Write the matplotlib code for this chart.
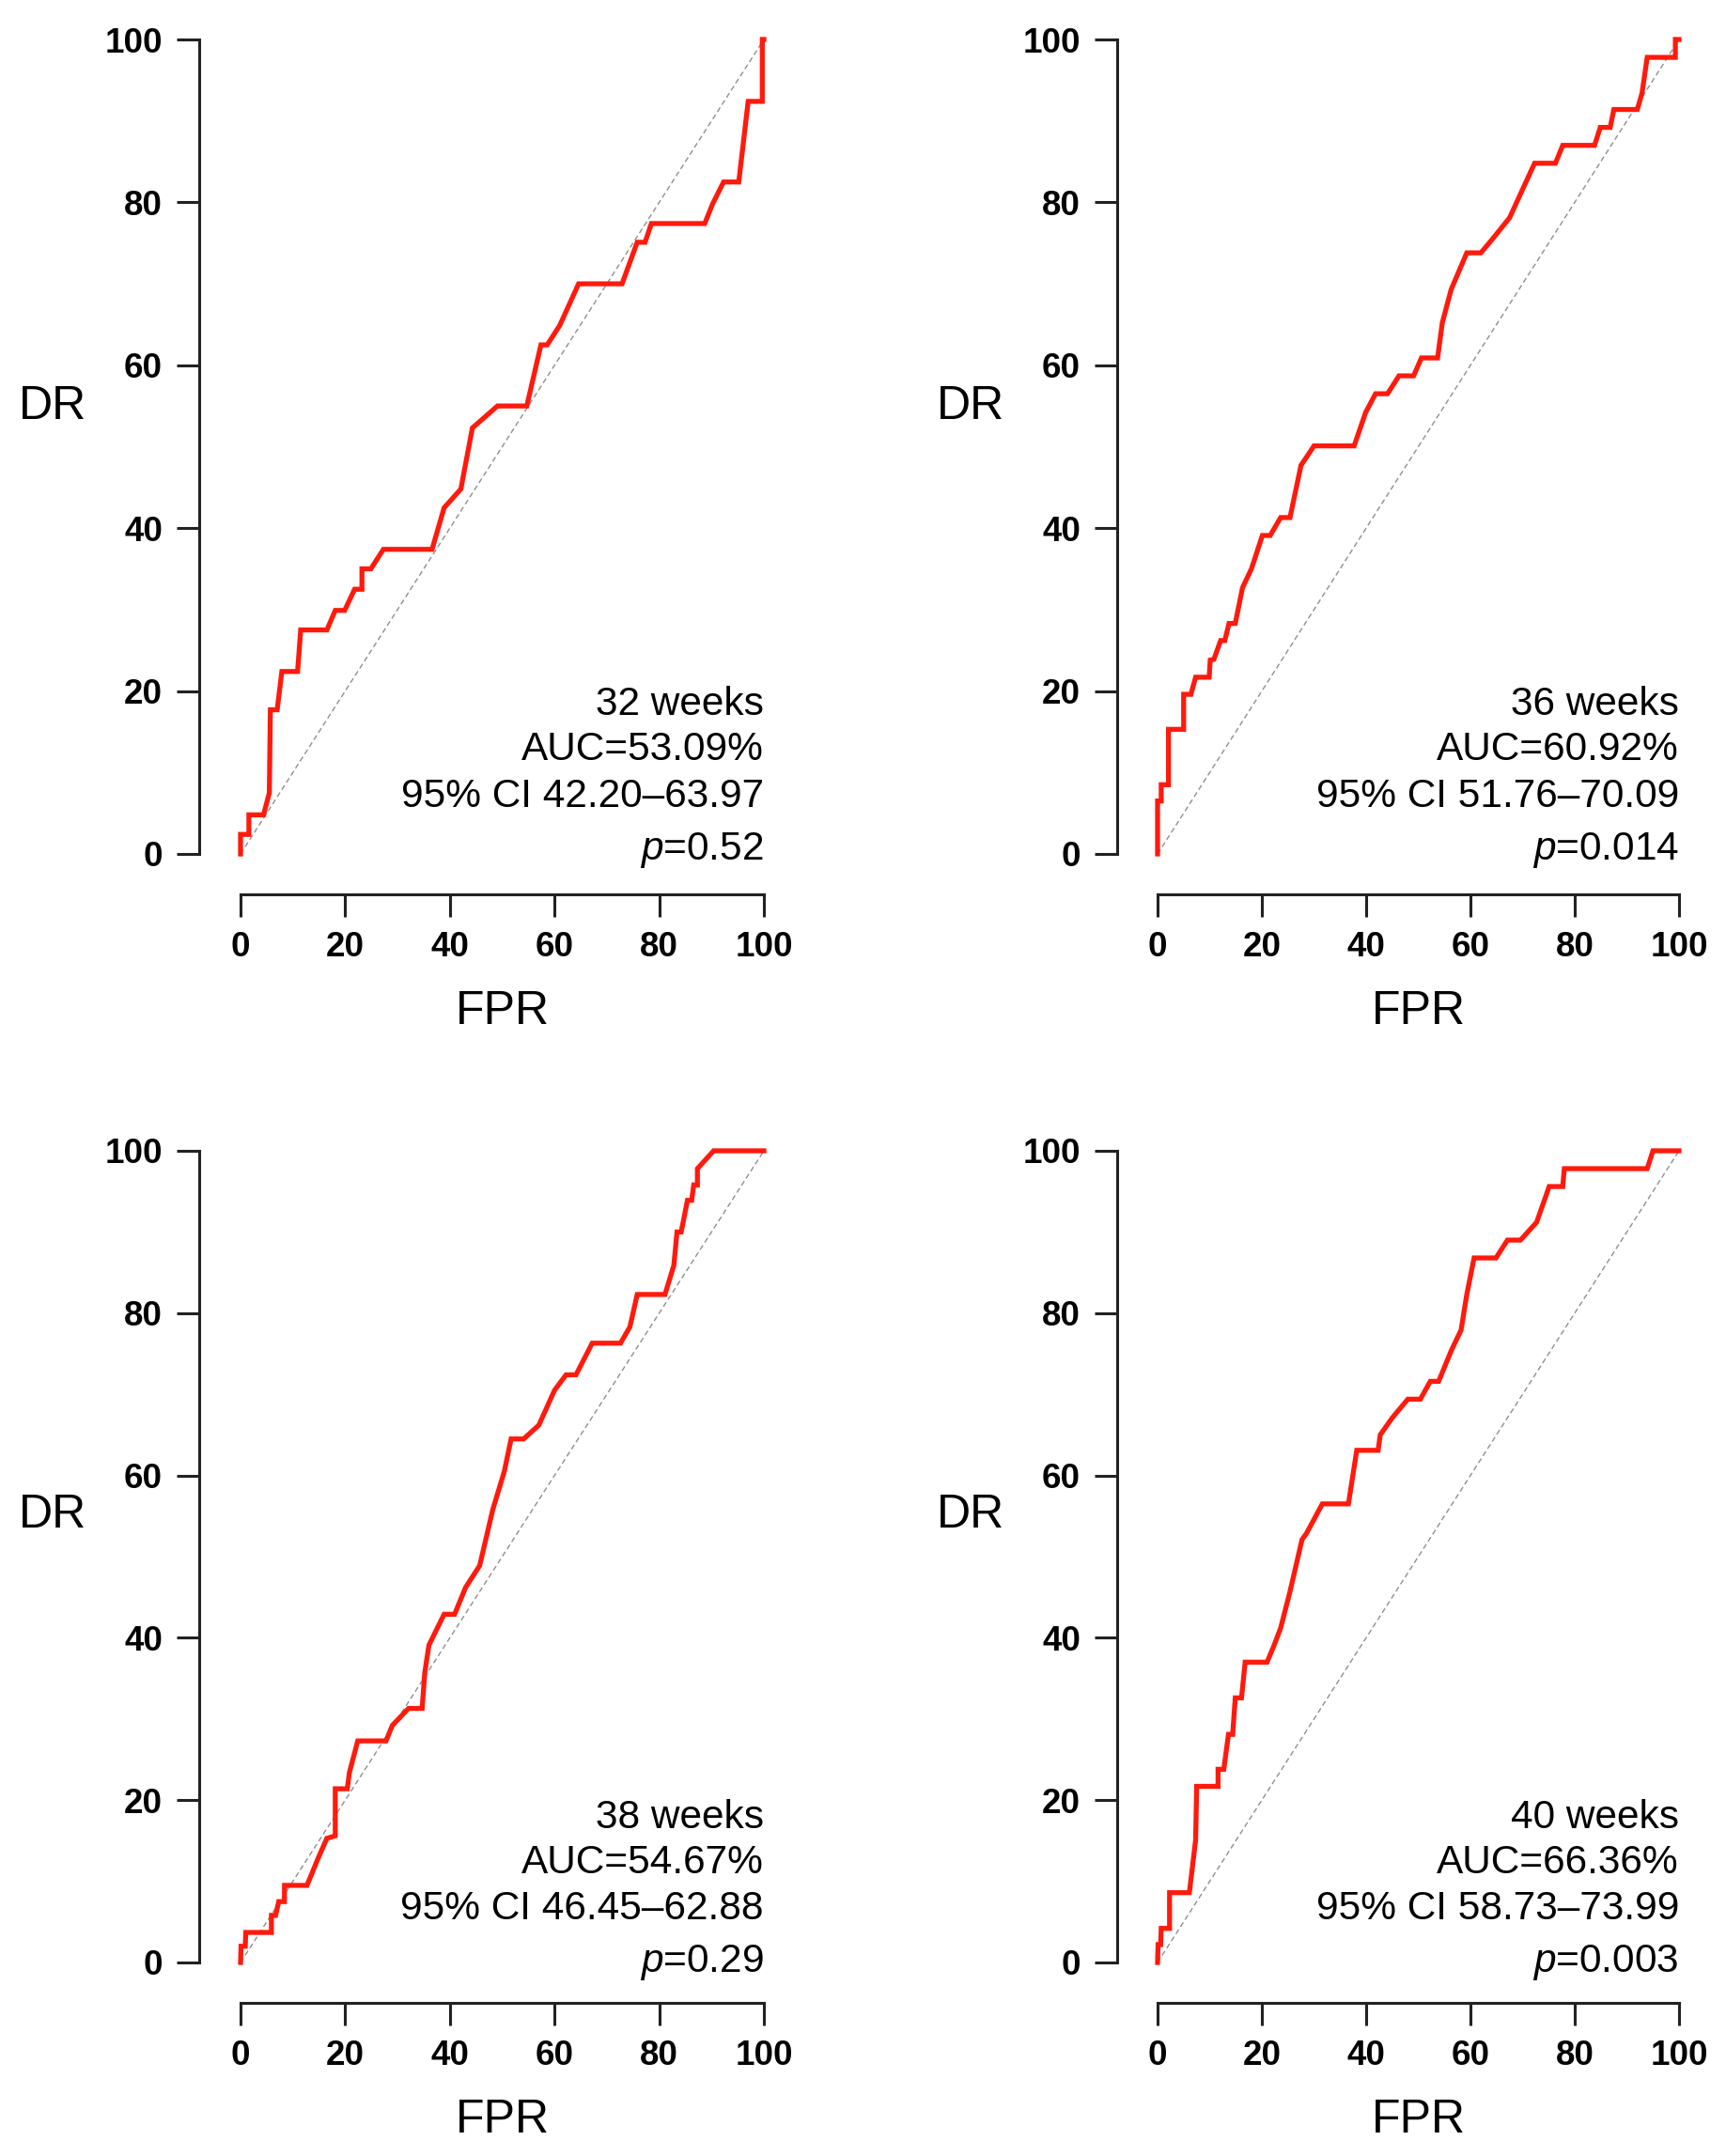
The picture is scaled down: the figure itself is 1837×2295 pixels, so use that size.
import matplotlib
matplotlib.use("Agg")
import matplotlib.pyplot as plt

plt.rcParams['font.family'] = ['Liberation Sans', 'DejaVu Sans']
plt.rcParams['mathtext.fontset'] = 'custom'
plt.rcParams['mathtext.rm'] = 'Liberation Sans'
plt.rcParams['mathtext.it'] = 'Liberation Sans:italic'

# ---------------- data ----------------
fpr32 = [0, 0, 1.6, 1.6, 4.4, 5.5, 5.7, 7.0, 7.9, 10.9, 11.5, 16.5, 18.1, 19.9, 21.8, 23.2, 23.2,
         24.9, 27.3, 36.6, 38.9, 42.1, 44.3, 49.1, 54.7, 57.4, 58.6, 61.0, 64.6, 72.9, 75.8, 77.3,
         78.5, 88.7, 90.2, 92.3, 95.2, 97.0, 99.7, 99.7, 100]
dr32 = [0, 2.4, 2.4, 4.8, 4.8, 7.5, 17.7, 17.7, 22.4, 22.4, 27.5, 27.5, 29.9, 29.9, 32.5, 32.5, 35.0,
        35.0, 37.4, 37.4, 42.5, 44.8, 52.3, 55.0, 55.0, 62.5, 62.5, 64.9, 70.0, 70.0, 75.1, 75.1,
        77.4, 77.4, 79.8, 82.5, 82.5, 92.4, 92.4, 100, 100]

fpr36 = [0, 0, 0.7, 0.7, 2.1, 2.1, 5.0, 5.0, 6.4, 7.3, 9.9, 10.1, 10.8, 12.1, 12.9, 13.7, 14.9, 16.3,
         18.0, 20.1, 21.6, 23.6, 25.4, 27.5, 30.0, 37.7, 39.9, 41.8, 44.1, 46.3, 49.1, 50.6, 53.7,
         54.6, 56.3, 59.3, 62.0, 64.1, 67.5, 72.3, 76.3, 77.7, 83.8, 84.9, 86.8, 87.5, 92.0, 92.9,
         93.9, 99.3, 99.3, 100]
dr36 = [0, 6.5, 6.5, 8.5, 8.5, 15.3, 15.3, 19.6, 19.6, 21.7, 21.7, 23.8, 23.9, 26.2, 26.2, 28.3,
        28.3, 32.7, 35.0, 39.1, 39.1, 41.3, 41.3, 47.7, 50.1, 50.1, 54.2, 56.5, 56.5, 58.7, 58.7,
        60.9, 60.9, 65.2, 69.3, 73.8, 73.8, 75.4, 78.1, 84.8, 84.8, 87.0, 87.0, 89.2, 89.2, 91.4,
        91.4, 93.4, 97.8, 97.8, 100, 100]

fpr38 = [0, 0.1, 0.9, 1.0, 5.9, 5.9, 6.7, 7.3, 8.4, 8.4, 12.7, 14.8, 16.5, 18.1, 18.1, 20.4, 20.8,
         22.4, 27.8, 29.0, 32.1, 34.7, 35.2, 36.0, 38.9, 40.9, 43.0, 45.7, 48.2, 50.4, 51.7, 54.1,
         57.0, 60.0, 62.2, 64.1, 67.2, 72.6, 74.4, 75.8, 81.1, 82.8, 83.4, 84.2, 85.4, 86.2, 86.6,
         87.3, 87.3, 90.4, 100]
dr38 = [0, 2.0, 2.0, 3.7, 3.7, 5.8, 5.8, 7.5, 7.5, 9.5, 9.5, 12.8, 15.3, 15.6, 21.4, 21.4, 23.4,
        27.3, 27.3, 29.2, 31.3, 31.3, 35.7, 39.1, 42.9, 42.9, 46.2, 48.9, 55.8, 60.5, 64.5, 64.5,
        66.2, 70.5, 72.4, 72.4, 76.3, 76.3, 78.3, 82.3, 82.3, 85.9, 90.0, 90.0, 93.9, 93.9, 95.8,
        95.8, 97.8, 100, 100]

fpr40 = [0, 0.1, 0.6, 0.7, 2.3, 2.3, 6.1, 7.3, 7.5, 11.6, 11.6, 12.7, 13.6, 14.4, 14.9, 16.1, 16.8,
         21.0, 22.3, 23.6, 25.4, 27.7, 28.5, 31.6, 36.6, 38.2, 42.3, 42.7, 45.0, 48.0, 50.4, 52.3,
         53.9, 56.4, 58.2, 59.3, 60.7, 64.9, 67.1, 69.6, 72.7, 75.1, 77.7, 78.0, 93.9, 95.0, 100]
dr40 = [0, 2.2, 2.2, 4.2, 4.2, 8.6, 8.6, 15.1, 21.7, 21.7, 23.8, 23.8, 28.1, 28.1, 32.6, 32.6, 37.0,
        37.0, 39.0, 41.2, 45.7, 52.1, 52.8, 56.5, 56.5, 63.1, 63.1, 65.0, 67.1, 69.4, 69.4, 71.6,
        71.6, 75.5, 77.9, 82.3, 86.8, 86.8, 89.0, 89.0, 91.2, 95.6, 95.6, 97.8, 97.8, 100, 100]

weeks = ["32 weeks", "36 weeks", "38 weeks", "40 weeks"]
auc_text = ["AUC=53.09%", "AUC=60.92%", "AUC=54.67%", "AUC=66.36%"]
ci_text = ["95% CI 42.20\u201363.97", "95% CI 51.76\u201370.09",
           "95% CI 46.45\u201362.88", "95% CI 58.73\u201373.99"]
p_text = ["0.52", "0.014", "0.29", "0.003"]
ticks = [0, 20, 40, 60, 80, 100]
tick_labels = ["0", "20", "40", "60", "80", "100"]

fprs = [fpr32, fpr36, fpr38, fpr40]
drs = [dr32, dr36, dr38, dr40]

# ---------------- layout (pixels) ----------------
W, H = 1837, 2295
fig = plt.figure(figsize=(W / 100, H / 100), dpi=100)

cols = [(212, 256, 813), (1189, 1232, 1787)]      # spine x, x=0, x=100
rows = [(42, 909, 952, 0.0), (1225, 2089, 2132, -0.5)]   # y=100, y=0, spine y, text shift

idx = 0
for r, (ytop, y0, yspine, tshift) in enumerate(rows):
    for c, (xspine, x0, x100) in enumerate(cols):
        left = xspine / W
        bottom = 1 - yspine / H
        width = (x100 - xspine) / W
        height = (yspine - ytop) / H
        ax = fig.add_axes([left, bottom, width, height])
        ux = (x100 - x0) / 100.0
        uy = (y0 - ytop) / 100.0
        ax.set_xlim(-(x0 - xspine) / ux, 100)
        ax.set_ylim(-(yspine - y0) / uy, 100)

        ax.plot([0, 100], [0, 100], color='#8f8f8f', lw=1.0, ls=(0, (4, 2.5)), clip_on=False, zorder=1)
        ax.plot(fprs[idx], drs[idx], color='#ff1a0d', lw=3.8, clip_on=False, zorder=2,
                solid_joinstyle='miter')

        for s in ['top', 'right']:
            ax.spines[s].set_visible(False)
        for s in ['left', 'bottom']:
            ax.spines[s].set_linewidth(2.2)
            ax.spines[s].set_color('#222222')
            ax.spines[s].set_bounds(0, 100)
        ax.set_xticks(ticks)
        ax.set_yticks(ticks)
        ax.set_xticklabels(tick_labels, fontsize=26.5, fontweight='bold')
        ax.set_yticklabels(tick_labels, fontsize=26.5, fontweight='bold')
        ax.tick_params(length=17, width=2.2, pad=11, color='#222222')
        ax.patch.set_alpha(0)

        # annotation block
        ty = [17.1 + tshift, 11.5 + tshift, 5.8 + tshift, -0.7 + tshift]
        ax.text(100, ty[0], weeks[idx], ha='right', va='baseline', fontsize=30.5)
        ax.text(100, ty[1], auc_text[idx], ha='right', va='baseline', fontsize=30.5)
        ax.text(100, ty[2], ci_text[idx], ha='right', va='baseline', fontsize=30.5)
        ax.text(100, ty[3], r"$\it{p}$=" + p_text[idx], ha='right', va='baseline', fontsize=30.5)

        # axis titles
        fig.text((xspine - 156) / W, 1 - (y0 - 476) / H, "DR", ha='center', va='center', fontsize=36)
        fig.text(((x0 + x100) / 2) / W, 1 - (yspine + 125) / H, "FPR", ha='center', va='center',
                 fontsize=36)
        idx += 1

fig.savefig("out.png", dpi=100, facecolor='white')
